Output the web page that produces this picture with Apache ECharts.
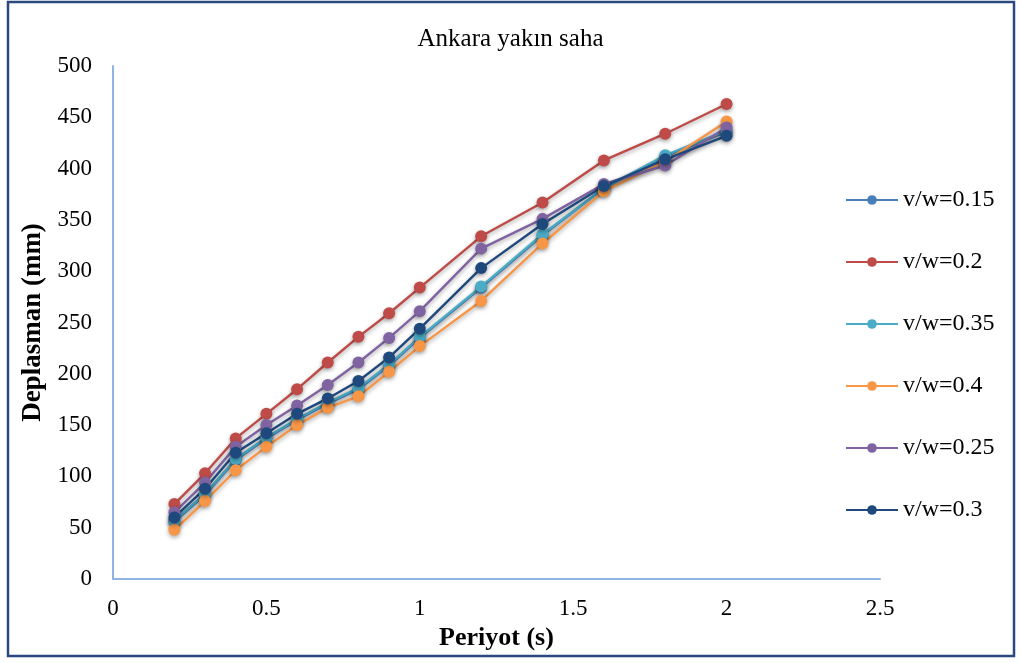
<!DOCTYPE html>
<html><head><meta charset="utf-8">
<script src="https://cdn.jsdelivr.net/npm/echarts@6/dist/echarts.min.js"></script>
<style>html,body{margin:0;padding:0;background:#fff}#c{width:1021px;height:663px}</style>
</head><body><div id="c"></div>
<script>
const periods = [0.2,0.3,0.4,0.5,0.6,0.7,0.8,0.9,1.0,1.2,1.4,1.6,1.8,2.0];
const seriesNames = ['v/w=0.15','v/w=0.2','v/w=0.35','v/w=0.4','v/w=0.25','v/w=0.3'];
const vw015 = [56,82,116,137,155,171,185,208,235,284,335,381,412,436];
const vw02  = [73,103,137,161,185,211,236,259,284,334,367,408,434,463];
const vw035 = [57,83,117,138,156,172,186,209,236,285,336,381,413,437];
const vw04  = [48,76,106,129,150,167,178,202,227,271,327,378,407,446];
const vw025 = [65,94,129,150,169,189,211,235,261,322,351,385,403,440];
const vw03  = [60,88,123,142,161,176,193,216,244,303,346,383,409,432];
const yTicks = [0,50,100,150,200,250,300,350,400,450,500];
const xTicks = [0,0.5,1,1.5,2,2.5];
const colors = ['#4a7ebb','#be4b48','#4bacc6','#f79646','#8064a2','#1f497d'];
const values = [vw015,vw02,vw035,vw04,vw025,vw03];

const chart = echarts.init(document.getElementById('c'));
const font = '"Liberation Serif", "Times New Roman", serif';
chart.setOption({
  animation:false,
  textStyle:{fontFamily:font},
  title:{text:'Ankara yakın saha',left:'center',top:22,textStyle:{fontFamily:font,fontSize:25,fontWeight:'normal',color:'#000'}},
  graphic:[{type:'rect',shape:{x:8,y:2,width:1006,height:654},style:{fill:'none',stroke:'#2a4a7f',lineWidth:2.5},silent:true}],
  grid:{left:113,right:141,top:66,bottom:84},
  legend:{orient:'vertical',left:840,top:183,itemWidth:52,itemHeight:12,itemGap:38,
    textStyle:{fontFamily:font,fontSize:24,color:'#000'},data:seriesNames},
  xAxis:{type:'value',min:0,max:2.5,interval:0.5,
    name:'Periyot (s)',nameLocation:'middle',nameGap:38,
    nameTextStyle:{fontFamily:font,fontSize:26,fontWeight:'bold',color:'#000'},
    axisLine:{show:true,lineStyle:{color:'#8eb4e3',width:2}},axisTick:{show:false},splitLine:{show:false},
    axisLabel:{fontFamily:font,fontSize:23,color:'#000',margin:18,formatter:v=>String(v)}},
  yAxis:{type:'value',min:0,max:500,interval:50,
    name:'Deplasman (mm)',nameLocation:'middle',nameGap:63,
    nameTextStyle:{fontFamily:font,fontSize:27,fontWeight:'bold',color:'#000'},
    axisLine:{show:true,lineStyle:{color:'#8eb4e3',width:2}},axisTick:{show:false},splitLine:{show:false},
    axisLabel:{fontFamily:font,fontSize:23,color:'#000',margin:21}},
  series: seriesNames.map((n,i)=>({
    name:n,type:'line',data:periods.map((p,j)=>[p,values[i][j]]),
    symbol:'circle',symbolSize:12,
    itemStyle:{color:colors[i],shadowBlur:4,shadowColor:'rgba(0,0,0,0.35)',shadowOffsetY:2},
    lineStyle:{color:colors[i],width:2.4,shadowBlur:4,shadowColor:'rgba(0,0,0,0.35)',shadowOffsetY:2}
  }))
});
</script></body></html>
